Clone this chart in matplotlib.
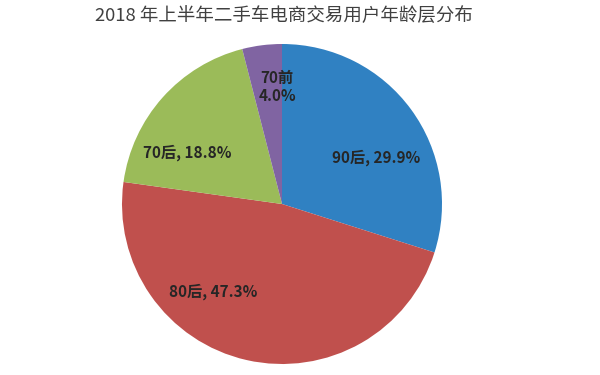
import matplotlib
matplotlib.use('Agg')
import matplotlib.pyplot as plt

plt.rcParams['font.family'] = ['Noto Sans CJK SC', 'DejaVu Sans']

# 数据
groups = ['90后', '80后', '70后', '70前']
shares = [29.9, 47.3, 18.8, 4.0]
colors = ['#3081C2', '#C0504D', '#9BBB59', '#8064A2']
title = '2018 年上半年二手车电商交易用户年龄层分布'

# 标签位置（相对半径的坐标）
label_xy = [(0.59, 0.29), (-0.43, -0.55), (-0.59, 0.32), (-0.03, 0.73)]

fig = plt.figure(figsize=(6, 3.75), dpi=100)
ax = fig.add_axes([122 / 600, 1 - 364 / 375, 320 / 600, 320 / 375])
ax.pie(shares, colors=colors, startangle=90, counterclock=False,
       radius=1.0, wedgeprops={'linewidth': 0})
ax.set_xlim(-1, 1)
ax.set_ylim(-1, 1)
ax.set_aspect('equal')
ax.axis('off')

for g, v, (x, y) in zip(groups, shares, label_xy):
    if v < 10:
        txt = f'{g}\n{v:.1f}%'
    else:
        txt = f'{g}, {v:.1f}%'
    ax.text(x, y, txt, ha='center', va='center', fontsize=11,
            color='#262626', fontweight='bold', linespacing=1.15)

fig.text(284 / 600, 1 - 16 / 375, title, ha='center', va='center',
         fontsize=13.3, color='#404040')

fig.savefig('out.png', dpi=100)
